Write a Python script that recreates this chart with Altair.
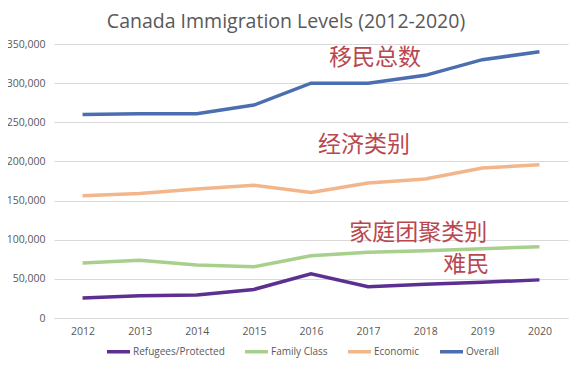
import altair as alt
import pandas as pd

years = ["2012", "2013", "2014", "2015", "2016", "2017", "2018", "2019", "2020"]
refugees = [25500, 28500, 29400, 36500, 56600, 40000, 43000, 45650, 48700]
family = [70300, 73700, 67700, 65500, 79600, 84000, 86000, 88500, 91000]
economic = [156200, 159000, 164800, 169500, 160400, 172500, 177500, 191600, 195800]
overall = [260000, 261000, 261000, 272000, 300000, 300000, 310000, 330000, 340000]

series_names = ["Refugees/Protected", "Family Class", "Economic", "Overall"]
series_colors = ["#5c2f91", "#a8d08d", "#f2b68a", "#4a6eb0"]

ann_text = ["移民总数", "经济类别", "家庭团聚类别", "难民"]
ann_year = ["2017", "2017", "2018", "2019"]
ann_value = [332000, 221000, 108000, 67700]
ann_dx = [7, -4, -7, -16]

y_ticks = [0, 50000, 100000, 150000, 200000, 250000, 300000, 350000]

rows = []
for name, vals in zip(series_names, [refugees, family, economic, overall]):
    for y, v in zip(years, vals):
        rows.append({"Year": y, "Value": v, "Series": name})
df = pd.DataFrame(rows)

xenc = alt.X("Year:O", sort=years,
             scale=alt.Scale(type="point", padding=0.5),
             axis=alt.Axis(title=None, labelAngle=0, ticks=False,
                           domainColor="#d9d9d9", labelColor="#595959",
                           labelFontSize=10.5, labelFont="Open Sans",
                           labelPadding=8))
yenc = alt.Y("Value:Q", scale=alt.Scale(domain=[0, 350000], nice=False),
             axis=alt.Axis(title=None, format=",.0f", values=y_ticks,
                           domain=False, ticks=False, gridColor="#d9d9d9",
                           labelColor="#595959", labelFontSize=10.5,
                           labelFont="Open Sans", labelPadding=9))

lines = alt.Chart(df).mark_line(strokeWidth=3.5).encode(
    x=xenc, y=yenc,
    color=alt.Color("Series:N",
                    scale=alt.Scale(domain=series_names, range=series_colors),
                    sort=series_names,
                    legend=alt.Legend(title=None, orient="none", direction="horizontal",
                                      legendX=51, legendY=294, padding=0,
                                      symbolType="stroke", symbolSize=529,
                                      symbolStrokeWidth=3.5, labelFontSize=10,
                                      labelColor="#595959", labelFont="Open Sans",
                                      labelOffset=1, columnPadding=13)),
)

layers = [lines]
for t, yr, v, dx in zip(ann_text, ann_year, ann_value, ann_dx):
    adf = pd.DataFrame({"Year": [yr], "Value": [v], "Text": [t]})
    layers.append(
        alt.Chart(adf).mark_text(font="Noto Sans CJK SC", fontSize=23,
                                 color="#b9474f", dx=dx, baseline="middle").encode(
            x=xenc, y=yenc, text="Text:N")
    )

chart = alt.layer(*layers).properties(
    width=514, height=274,
    autosize=alt.AutoSizeParams(type="none"),
    padding={"left": 46, "top": 36, "right": 2, "bottom": 42},
    title=alt.TitleParams("Canada Immigration Levels (2012-2020)", font="Open Sans",
                          fontSize=19.5, fontWeight="normal", color="#595959",
                          anchor="middle", dx=-25, offset=7),
).configure_view(stroke=None)

chart.save("out.html", embed_options={"renderer": "svg", "actions": False})
